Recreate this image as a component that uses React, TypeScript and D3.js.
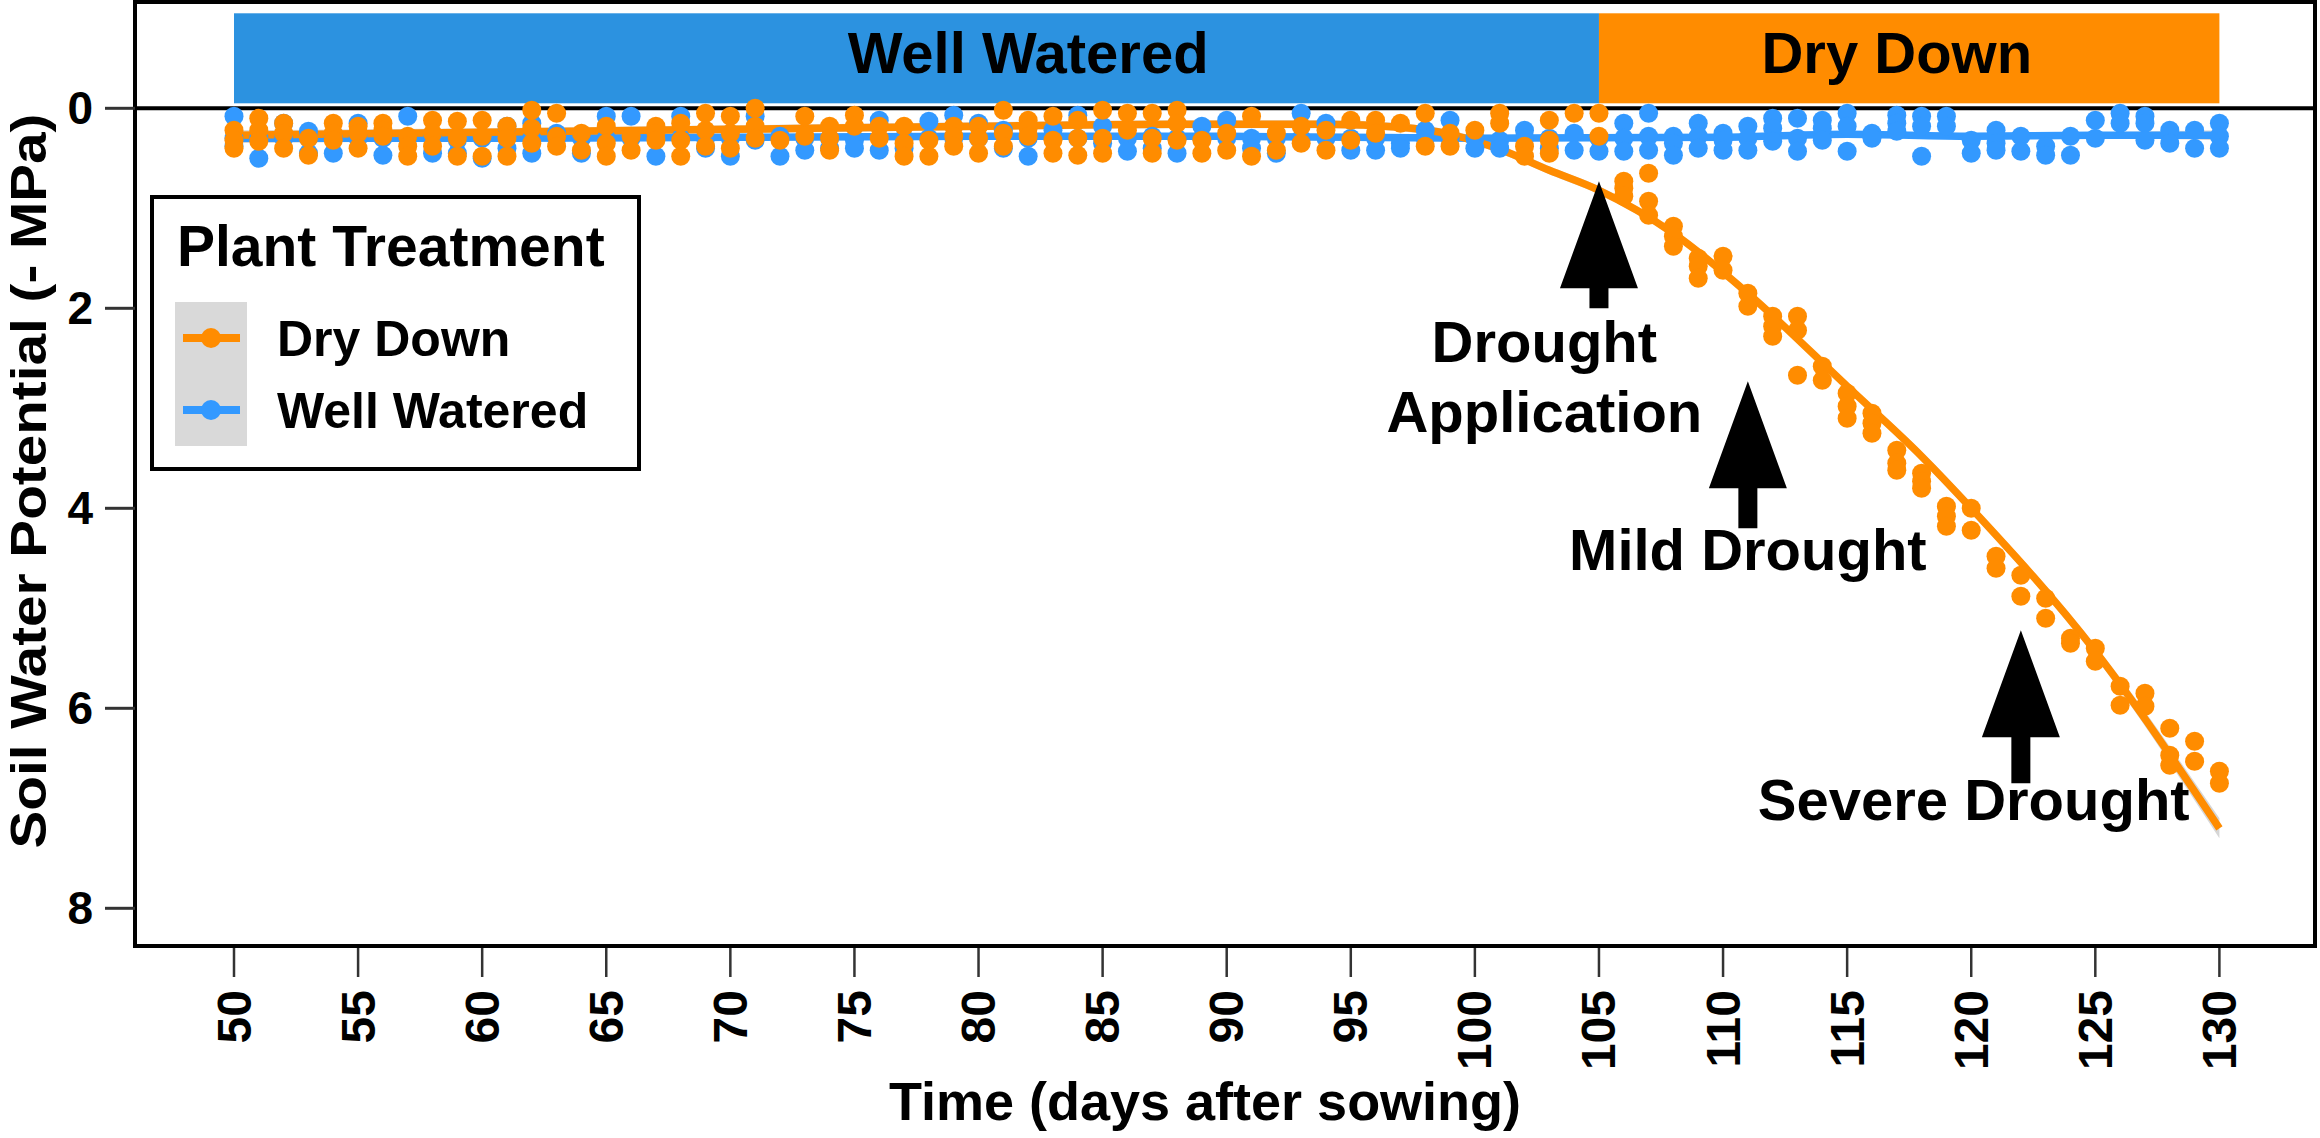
import * as d3 from "d3";

// ── Tokens ────────────────────────────────────────────────────────────────────

const FONT = "'Liberation Sans', Arial, Helvetica, sans-serif";
const ORANGE = "#FF8C00";
const BLUE = "#3399FF";
const BAR_BLUE = "#2C92E0";
const TICK = "#333333";

// ── Data ──────────────────────────────────────────────────────────────────────

// [day, soil water potential readings (-MPa)]
const DRY_DOWN: [number, number[]][] = [
  [50, [0.22, 0.32, 0.4]], [51, [0.1, 0.22, 0.33]], [52, [0.15, 0.25, 0.4]],
  [53, [0.3, 0.47]], [54, [0.15, 0.25, 0.32]], [55, [0.18, 0.25, 0.4]],
  [56, [0.15, 0.22, 0.28]], [57, [0.28, 0.38, 0.48]], [58, [0.12, 0.25, 0.38]],
  [59, [0.13, 0.3, 0.48]], [60, [0.12, 0.28, 0.48]], [61, [0.18, 0.3, 0.48]],
  [62, [0.02, 0.2, 0.35]], [63, [0.05, 0.28, 0.38]], [64, [0.25, 0.42]],
  [65, [0.18, 0.35, 0.48]], [66, [0.28, 0.42]], [67, [0.18, 0.25, 0.32]],
  [68, [0.15, 0.32, 0.48]], [69, [0.05, 0.22, 0.38]], [70, [0.08, 0.25, 0.4]],
  [71, [0.0, 0.18, 0.3]], [72, [0.32]], [73, [0.08, 0.28]],
  [74, [0.18, 0.3, 0.42]], [75, [0.07, 0.18]], [76, [0.18, 0.3]],
  [77, [0.18, 0.35, 0.48]], [78, [0.32, 0.48]], [79, [0.18, 0.28, 0.38]],
  [80, [0.18, 0.3, 0.45]], [81, [0.02, 0.25, 0.38]], [82, [0.12, 0.2, 0.28]],
  [83, [0.08, 0.32, 0.45]], [84, [0.12, 0.3, 0.47]], [85, [0.02, 0.3, 0.45]],
  [86, [0.05, 0.22]], [87, [0.05, 0.3, 0.45]], [88, [0.02, 0.15, 0.32]],
  [89, [0.32, 0.45]], [90, [0.25, 0.42]], [91, [0.08, 0.48]],
  [92, [0.25, 0.42]], [93, [0.18, 0.35]], [94, [0.22, 0.42]],
  [95, [0.12, 0.32]], [96, [0.12, 0.25]], [97, [0.15]],
  [98, [0.05, 0.38]], [99, [0.25, 0.38]], [100, [0.22]],
  [101, [0.05, 0.15]], [102, [0.38, 0.48]], [103, [0.12, 0.32, 0.45]],
  [104, [0.05]], [105, [0.05, 0.28]],
  [106, [0.73, 0.8, 0.88]], [107, [0.65, 0.93, 1.07]], [108, [1.18, 1.28, 1.38]],
  [109, [1.5, 1.58, 1.7]], [110, [1.48, 1.62]], [111, [1.85, 1.98]],
  [112, [2.08, 2.18, 2.28]], [113, [2.08, 2.22, 2.67]], [114, [2.58, 2.72]],
  [115, [2.85, 2.98, 3.1]], [116, [3.05, 3.15, 3.25]], [117, [3.42, 3.55, 3.62]],
  [118, [3.65, 3.73, 3.8]], [119, [3.98, 4.08, 4.18]], [120, [4.0, 4.22]],
  [121, [4.48, 4.6]], [122, [4.67, 4.88]], [123, [4.9, 5.1]],
  [124, [5.3, 5.35]], [125, [5.4, 5.53]], [126, [5.78, 5.97]],
  [127, [5.85, 5.98]], [128, [6.2, 6.47, 6.57]], [129, [6.33, 6.53]],
  [130, [6.63, 6.75]],
];

const WELL_WATERED: [number, number[]][] = [
  [50, [0.08, 0.3, 0.38]], [51, [0.3, 0.5]], [52, [0.15, 0.3]],
  [53, [0.23, 0.3, 0.45]], [54, [0.3, 0.45]], [55, [0.15, 0.3]],
  [56, [0.3, 0.47]], [57, [0.08, 0.3]], [58, [0.3, 0.45]],
  [59, [0.32, 0.45]], [60, [0.3, 0.5]], [61, [0.18, 0.4]],
  [62, [0.15, 0.3, 0.45]], [63, [0.25, 0.3]], [64, [0.3, 0.45]],
  [65, [0.08, 0.3]], [66, [0.08, 0.3]], [67, [0.3, 0.48]],
  [68, [0.08, 0.3]], [69, [0.3, 0.4]], [70, [0.3, 0.48]],
  [71, [0.08, 0.32]], [72, [0.28, 0.48]], [73, [0.3, 0.42]],
  [74, [0.3, 0.4]], [75, [0.32, 0.4]], [76, [0.12, 0.42]],
  [77, [0.3, 0.4]], [78, [0.13, 0.3]], [79, [0.07, 0.3]],
  [80, [0.15, 0.3]], [81, [0.22, 0.4]], [82, [0.3, 0.48]],
  [83, [0.22, 0.3]], [84, [0.07, 0.3]], [85, [0.18, 0.35]],
  [86, [0.3, 0.43]], [87, [0.28, 0.4]], [88, [0.3, 0.45]],
  [89, [0.18, 0.3]], [90, [0.12, 0.3]], [91, [0.3, 0.4]],
  [92, [0.3, 0.45]], [93, [0.05, 0.3]], [94, [0.15, 0.3]],
  [95, [0.3, 0.42]], [96, [0.3, 0.42]], [97, [0.35, 0.4]],
  [98, [0.22, 0.3]], [99, [0.12, 0.3]], [100, [0.3, 0.4]],
  [101, [0.32, 0.4]], [102, [0.22, 0.3]], [103, [0.3, 0.4]],
  [104, [0.25, 0.42]], [105, [0.3, 0.43]], [106, [0.15, 0.3, 0.43]],
  [107, [0.05, 0.28, 0.42]], [108, [0.28, 0.35, 0.47]], [109, [0.15, 0.28, 0.4]],
  [110, [0.25, 0.32, 0.42]], [111, [0.18, 0.3, 0.42]], [112, [0.1, 0.2, 0.33]],
  [113, [0.1, 0.3, 0.43]], [114, [0.12, 0.2, 0.32]], [115, [0.05, 0.18, 0.43]],
  [116, [0.25, 0.3]], [117, [0.07, 0.15, 0.23]], [118, [0.08, 0.18, 0.48]],
  [119, [0.08, 0.18]], [120, [0.32, 0.45]], [121, [0.22, 0.35, 0.42]],
  [122, [0.28, 0.43]], [123, [0.38, 0.47]], [124, [0.28, 0.47]],
  [125, [0.12, 0.3]], [126, [0.05, 0.15]], [127, [0.08, 0.15, 0.32]],
  [128, [0.22, 0.35]], [129, [0.22, 0.4]], [130, [0.15, 0.28, 0.4]],
];

// smoothed fits: [day, fit, se]
const DRY_FIT: [number, number, number][] = [
  [50, 0.27, 0.05], [60, 0.24, 0.04], [70, 0.21, 0.04], [80, 0.18, 0.04],
  [88, 0.16, 0.04], [94, 0.16, 0.04], [97, 0.19, 0.04], [99, 0.26, 0.04],
  [101, 0.41, 0.04], [103, 0.62, 0.04], [105, 0.82, 0.04], [108, 1.25, 0.04],
  [111, 1.85, 0.04], [115, 2.78, 0.04], [118, 3.48, 0.05], [120, 4.0, 0.05],
  [125, 5.43, 0.06], [130, 7.2, 0.1],
];

const WET_FIT: [number, number, number][] = [
  [50, 0.3, 0.05], [60, 0.3, 0.03], [70, 0.29, 0.03], [80, 0.28, 0.03],
  [90, 0.28, 0.03], [100, 0.3, 0.03], [110, 0.29, 0.03], [115, 0.26, 0.03],
  [120, 0.28, 0.03], [125, 0.27, 0.03], [130, 0.27, 0.05],
];

const PHASES = ["Well Watered", "Dry Down"];
const PHASE_START = [50, 105];
const PHASE_END = [105, 130];
const PHASE_LABEL_X = [82, 117];
const PHASE_FILL = [BAR_BLUE, ORANGE];

const ARROW_DAY = [105, 111, 122];
const ARROW_FROM = [2.0, 4.2, 6.75];
const ARROW_TO = [0.73, 2.73, 5.22];

const NOTE_LINES = [["Drought", "Application"], ["Mild Drought"], ["Severe Drought"]];
const NOTE_X = [102.8, 111, 120.1];
const NOTE_Y = [2.54, 4.62, 7.12];

const X_TICKS = d3.range(50, 131, 5);
const Y_TICKS = [0, 2, 4, 6, 8];

// ── Layout ────────────────────────────────────────────────────────────────────

const W = 2320, H = 1138;
const L = 135, R = 2315, T = 2, B = 946;

const x = d3.scaleLinear().domain([50, 130]).range([234, 2219.4]);
const y = d3.scaleLinear().domain([0, 8]).range([108.3, 908.3]);

const fitLine = d3.line<[number, number, number]>()
  .x(d => x(d[0])).y(d => y(d[1])).curve(d3.curveMonotoneX);
const fitBand = d3.area<[number, number, number]>()
  .x(d => x(d[0])).y0(d => y(d[1] - d[2])).y1(d => y(d[1] + d[2]))
  .curve(d3.curveMonotoneX);

const HEAD_LEN = 107, HEAD_HALF = 39, STEM_HALF = 9.5;

function arrowPath(day: number, from: number, to: number) {
  const cx = x(day), tip = y(to), base = tip + HEAD_LEN, tail = y(from);
  return `M${cx},${tip} L${cx + HEAD_HALF},${base} L${cx + STEM_HALF},${base} ` +
    `L${cx + STEM_HALF},${tail} L${cx - STEM_HALF},${tail} L${cx - STEM_HALF},${base} ` +
    `L${cx - HEAD_HALF},${base} Z`;
}

function Points({ data, color }: { data: [number, number[]][]; color: string }) {
  return (
    <g fill={color}>
      {data.flatMap(([day, vals]) =>
        vals.map((v, i) => <circle key={`${day}-${i}`} cx={x(day)} cy={y(v)} r={9.5} />))}
    </g>
  );
}

export default function App() {
  return (
    <svg width={W} height={H} style={{ position: "absolute", left: 0, top: 0, background: "#fff" }}
      fontFamily={FONT} fontWeight="bold">
      <rect x={0} y={0} width={W} height={H} fill="#fff" />

      {/* phase bars */}
      {PHASES.map((p, i) => (
        <g key={p}>
          <rect x={x(PHASE_START[i])} y={y(-0.95)} width={x(PHASE_END[i]) - x(PHASE_START[i])}
            height={y(-0.05) - y(-0.95)} fill={PHASE_FILL[i]} />
          <text x={x(PHASE_LABEL_X[i])} y={y(-0.353)} textAnchor="middle" fontSize={58}>{p}</text>
        </g>
      ))}

      {/* zero line */}
      <line x1={L} x2={R} y1={y(0)} y2={y(0)} stroke="#000" strokeWidth={4} />

      {/* smooth fits */}
      <path d={fitBand(WET_FIT) ?? ""} fill="#999" opacity={0.4} />
      <path d={fitBand(DRY_FIT) ?? ""} fill="#999" opacity={0.4} />
      <path d={fitLine(WET_FIT) ?? ""} fill="none" stroke={BLUE} strokeWidth={7.5} />
      <path d={fitLine(DRY_FIT) ?? ""} fill="none" stroke={ORANGE} strokeWidth={7.5} />

      <Points data={WELL_WATERED} color={BLUE} />
      <Points data={DRY_DOWN} color={ORANGE} />

      {/* arrows + notes */}
      {ARROW_DAY.map((d, i) => (
        <path key={d} d={arrowPath(d, ARROW_FROM[i], ARROW_TO[i])} fill="#000" />
      ))}
      {NOTE_LINES.map((lines, i) => (
        <text key={i} x={x(NOTE_X[i])} y={y(NOTE_Y[i])} textAnchor="middle" fontSize={58}>
          {lines.map((t, j) => (
            <tspan key={j} x={x(NOTE_X[i])} dy={j === 0 ? 0 : 70}>{t}</tspan>
          ))}
        </text>
      ))}

      {/* frame */}
      <rect x={L} y={T} width={R - L} height={B - T} fill="none" stroke="#000" strokeWidth={4} />

      {/* y axis */}
      {Y_TICKS.map(t => (
        <g key={t}>
          <line x1={105} x2={L} y1={y(t)} y2={y(t)} stroke={TICK} strokeWidth={3} />
          <text x={93} y={y(t)} textAnchor="end" dominantBaseline="central" fontSize={46}>{t}</text>
        </g>
      ))}
      <text transform={`translate(46,481) rotate(-90)`} textAnchor="middle" fontSize={50}
        textLength={735} lengthAdjust="spacingAndGlyphs">
        Soil Water Potential (- MPa)
      </text>

      {/* x axis */}
      {X_TICKS.map(t => (
        <g key={t}>
          <line x1={x(t)} x2={x(t)} y1={B + 2} y2={977} stroke={TICK} strokeWidth={2.5} />
          <text transform={`translate(${x(t)},990) rotate(-90)`} textAnchor="end"
            dominantBaseline="central" fontSize={48}>{t}</text>
        </g>
      ))}
      <text x={1205} y={1120} textAnchor="middle" fontSize={54}>Time (days after sowing)</text>

      {/* legend */}
      <g>
        <rect x={152} y={197} width={487} height={272} fill="#fff" stroke="#000" strokeWidth={4} />
        <text x={177} y={266} fontSize={57}>Plant Treatment</text>
        <rect x={175} y={302} width={72} height={144} fill="#D9D9D9" />
        {[ORANGE, BLUE].map((c, i) => (
          <g key={c}>
            <line x1={183} x2={240} y1={338 + i * 72} y2={338 + i * 72} stroke={c} strokeWidth={8} />
            <circle cx={211} cy={338 + i * 72} r={10} fill={c} />
            <text x={277} y={356 + i * 72} fontSize={50}>{["Dry Down", "Well Watered"][i]}</text>
          </g>
        ))}
      </g>
    </svg>
  );
}
